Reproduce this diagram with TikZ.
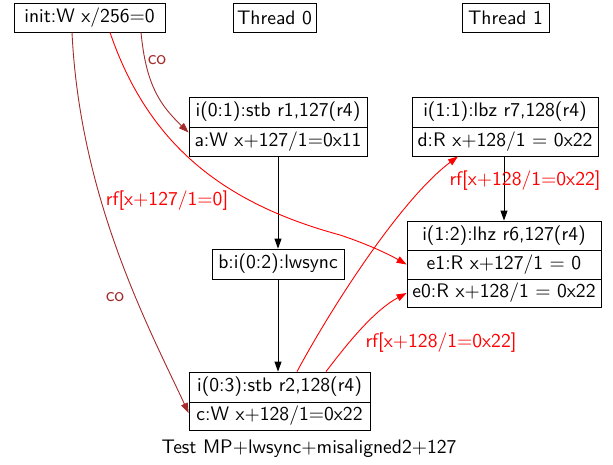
\documentclass[tikz,border=0pt]{standalone}
\usetikzlibrary{arrows.meta}
\definecolor{cobrown}{RGB}{165,42,42}
\definecolor{rfred}{RGB}{255,0,0}
\begin{document}
\begin{tikzpicture}[x=0.5pt,y=-0.5pt,
  font=\sffamily\fontsize{9.8}{11.5}\selectfont,
  box/.style={draw,inner sep=0pt,minimum height=14.5pt},
  lab/.style={inner sep=0pt},
  arr/.style={-{Triangle[length=5pt,width=3.5pt]},line width=0.45pt},
  co/.style={arr,draw=cobrown},
  rf/.style={arr,draw=rfred}]
\useasboundingbox (0,0) rectangle (613,464);
% nodes
\node[box,minimum width=75.5pt] (init) at (89.5,17.5) {init:W x/256=0};
\node[box,minimum width=41.5pt] (t0) at (274.5,17.5) {Thread 0};
\node[box,minimum width=43.5pt] (t1) at (505.5,17.5) {Thread 1};
\node[box,minimum width=89pt,minimum height=15pt] (a1) at (278,112) {i(0:1):stb r1,127(r4)};
\node[box,minimum width=89pt] (a2) at (278,141.5) {a:W x+127/1=0x11};
\node[box,minimum width=93pt,minimum height=15pt] (d1) at (505,112) {i(1:1):lbz r7,128(r4)};
\node[box,minimum width=93pt] (d2) at (505,141.5) {d:R x+128/1 = 0x22};
\node[box,minimum width=66pt,minimum height=15pt] (b) at (278,264) {b:i(0:2):lwsync};
\node[box,minimum width=97pt] (e) at (504,235.5) {i(1:2):lhz r6,127(r4)};
\node[box,minimum width=97pt] (e1) at (504,264.5) {e1:R x+127/1 = 0};
\node[box,minimum width=97pt,minimum height=14pt] (e0) at (504,293) {e0:R x+128/1 = 0x22};
\node[box,minimum width=90.5pt,minimum height=15pt] (c1) at (279.5,387) {i(0:3):stb r2,128(r4)};
\node[box,minimum width=90.5pt,minimum height=14pt] (c2) at (279.5,416) {c:W x+128/1=0x22};
\node[lab] (cap) at (309,449) {Test MP+lwsync+misaligned2+127};
% po edges
\draw[arr] (a2.south) -- (b.north);
\draw[arr] (b.south) -- (c1.north -| b.south);
\draw[arr] (d2.south -| e.north) -- (e.north);
% co edges
\draw[co] ([xshift=25.75pt]init.south) .. controls (146,85) and (160,105) .. ([yshift=4.5pt]a2.west);
\node[lab,text=cobrown] (colab1) at (157,60) {co};
\draw[co] ([xshift=-8.75pt]init.south) .. controls (80,200) and (150,330) .. ([yshift=1.5pt]c2.west);
\node[lab,text=cobrown] (colab2) at (115,297) {co};
% rf edges
\draw[rf] ([xshift=10.25pt]init.south) .. controls (150,150) and (230,205) .. (340,235) .. controls (370,245) and (390,255) .. (e1.west);
\node[lab,text=rfred] (rflab1) at (167,201) {rf[x+127/1=0]};
\draw[rf] ([xshift=8.75pt]c1.north) .. controls (330,310) and (400,200) .. ([xshift=-23.5pt]d2.south);
\node[lab,text=rfred] (rflab2) at (525,181) {rf[x+128/1=0x22]};
\draw[rf] ([xshift=23.25pt]c1.north) .. controls (350,340) and (375,310) .. (e0.west);
\node[lab,text=rfred] (rflab3) at (441,343) {rf[x+128/1=0x22]};
\end{tikzpicture}
\end{document}
